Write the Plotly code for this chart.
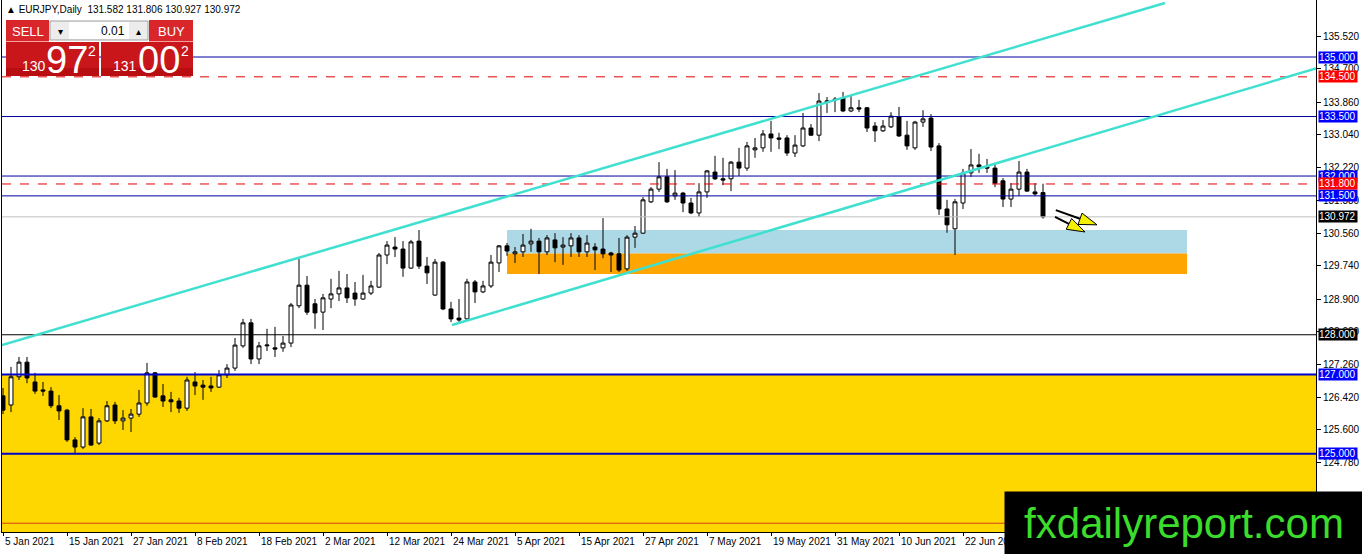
import plotly.graph_objects as go
import pandas as pd

# EURJPY daily (price units)
opens = [126.46, 126.23, 126.94, 127.31, 126.81, 126.61, 126.58, 126.21, 126.10, 125.35,
         125.17, 125.93, 125.27, 125.83, 126.23, 125.83, 125.90, 126.00, 126.28, 127.04,
         126.46, 126.36, 126.33, 126.15, 126.81, 126.73, 126.71, 126.68, 126.99, 127.16,
         127.72, 128.30, 127.39, 127.72, 127.67, 127.67, 127.79, 128.73, 129.25, 128.78,
         128.57, 128.90, 129.03, 129.18, 129.05, 128.90, 129.05, 129.20, 130.01, 130.21,
         130.16, 129.68, 130.36, 129.73, 129.00, 129.83, 128.65, 128.42, 128.40, 129.33,
         129.08, 129.23, 129.81, 130.24, 130.04, 130.09, 130.29, 130.36, 130.09, 130.39,
         130.21, 130.24, 130.44, 130.09, 130.21, 130.16, 130.06, 130.04, 129.66, 130.46,
         130.56, 131.35, 131.67, 131.98, 131.50, 131.57, 131.32, 131.07, 131.60, 132.10,
         131.93, 131.93, 132.35, 132.20, 132.66, 132.71, 133.06, 132.96, 132.96, 132.58,
         132.76, 133.21, 133.03, 133.87, 133.94, 133.97, 133.64, 133.72, 133.72, 133.26,
         133.14, 133.24, 133.49, 133.03, 132.71, 133.36, 133.46, 132.76, 131.17, 130.67,
         131.32, 132.08, 132.28, 132.23, 132.20, 131.88, 131.42, 131.67, 132.10, 131.60,
         131.582]
highs = [126.66, 127.19, 127.44, 127.44, 127.04, 126.81, 126.68, 126.48, 126.13, 125.42,
         126.15, 126.13, 125.90, 126.33, 126.31, 126.10, 126.13, 126.61, 127.29, 127.06,
         126.76, 126.56, 126.41, 126.94, 127.06, 126.86, 126.94, 127.11, 127.26, 127.92,
         128.40, 128.40, 127.82, 128.15, 128.20, 127.97, 128.80, 129.91, 129.48, 128.90,
         129.03, 129.41, 129.61, 129.53, 129.33, 129.51, 129.36, 130.06, 130.36, 130.46,
         130.36, 130.39, 130.64, 129.96, 129.91, 129.86, 128.83, 128.90, 129.41, 129.38,
         129.36, 130.01, 130.26, 130.31, 130.21, 130.54, 130.67, 130.44, 130.51, 130.56,
         130.46, 130.56, 130.51, 130.51, 130.31, 130.94, 130.09, 130.44, 130.51, 130.74,
         131.47, 131.72, 132.35, 132.18, 132.15, 131.60, 131.45, 131.82, 132.15, 132.51,
         132.46, 132.38, 132.71, 132.86, 132.96, 133.16, 133.39, 133.09, 133.03, 133.03,
         133.59, 133.31, 134.09, 133.99, 133.99, 134.12, 134.04, 133.92, 133.74, 133.36,
         133.41, 133.61, 133.74, 133.39, 133.39, 133.66, 133.56, 132.83, 131.40, 131.42,
         132.18, 132.68, 132.56, 132.43, 132.33, 131.95, 131.82, 132.38, 132.18, 131.82,
         131.806]
lows = [126.00, 126.05, 126.86, 126.78, 126.51, 126.46, 126.15, 125.85, 125.30, 124.99,
        125.12, 125.20, 125.22, 125.80, 125.75, 125.60, 125.55, 125.93, 126.21, 126.41,
        126.18, 126.05, 126.03, 126.08, 126.48, 126.36, 126.56, 126.66, 126.91, 127.09,
        127.67, 127.26, 127.26, 127.59, 127.44, 127.57, 127.69, 128.67, 128.50, 128.15,
        128.12, 128.67, 128.85, 128.80, 128.73, 128.88, 129.00, 129.18, 129.78, 129.96,
        129.46, 129.66, 129.66, 129.28, 128.98, 128.62, 128.32, 128.32, 128.37, 128.80,
        129.05, 129.18, 129.58, 129.99, 129.81, 129.96, 130.09, 129.53, 130.01, 129.83,
        129.76, 129.96, 129.96, 129.96, 129.63, 129.93, 129.58, 129.58, 129.61, 130.19,
        130.54, 131.32, 131.60, 131.32, 131.40, 131.09, 131.04, 130.97, 131.45, 131.90,
        131.77, 131.62, 132.00, 132.13, 132.46, 132.61, 132.61, 132.68, 132.51, 132.48,
        132.73, 133.01, 132.88, 133.59, 133.61, 133.61, 133.61, 133.61, 133.11, 132.86,
        133.11, 133.21, 132.99, 132.66, 132.66, 133.24, 132.63, 131.02, 130.57, 130.01,
        131.17, 131.98, 132.08, 132.08, 131.72, 131.22, 131.22, 131.50, 131.60, 131.50,
        130.927]
closes = [126.10, 126.94, 127.31, 126.91, 126.58, 126.58, 126.21, 126.08, 125.35, 125.17,
          125.93, 125.22, 125.83, 126.21, 125.83, 125.90, 126.00, 126.28, 127.04, 126.43,
          126.33, 126.31, 126.15, 126.86, 126.71, 126.68, 126.66, 126.99, 127.16, 127.74,
          128.30, 127.39, 127.72, 127.74, 127.64, 127.79, 128.75, 129.25, 128.57, 128.55,
          128.93, 129.03, 129.18, 128.93, 128.90, 129.05, 129.23, 130.01, 130.26, 130.16,
          129.68, 130.34, 129.73, 129.56, 129.83, 128.65, 128.40, 128.37, 129.33, 129.08,
          129.23, 129.83, 130.24, 130.11, 130.09, 130.26, 130.36, 130.09, 130.44, 130.19,
          130.26, 130.44, 130.09, 130.31, 130.14, 130.04, 130.01, 129.63, 130.46, 130.56,
          131.40, 131.67, 131.98, 131.35, 131.57, 131.32, 131.07, 131.60, 132.13, 131.93,
          131.90, 132.35, 132.20, 132.76, 132.71, 133.06, 132.96, 132.93, 132.58, 132.78,
          133.21, 133.03, 133.89, 133.89, 133.92, 133.64, 133.72, 133.69, 133.21, 133.14,
          133.26, 133.51, 133.01, 132.76, 133.36, 133.44, 132.73, 131.17, 130.77, 131.35,
          132.08, 132.28, 132.23, 132.20, 131.82, 131.42, 131.67, 132.10, 131.62, 131.55,
          130.972]

blue_levels = [135.000, 133.500, 132.000, 131.500, 127.000, 125.000]
red_levels = [134.500, 131.800]
black_level = 128.000
bid = 130.972
bottom_red_level = 123.25
yellow_zone = [127.000, 123.0]
blue_zone = [130.05, 130.64]
orange_zone = [129.53, 130.05]
zone_bars = [63, 148]

# channel lines (bar index, price)
upper_channel = [(-0.125, 127.742), (145.25, 136.361)]
lower_channel = [(56.125, 128.246), (164.125, 134.713)]

# two arrows (start, tip)
arrows = [((131.6, 131.14), (136.75, 130.77)),
          ((131.5, 130.97), (135.25, 130.59))]

y_ticks = [124.780, 125.600, 126.420, 127.260, 128.080, 128.900, 129.740,
           130.560, 131.380, 132.220, 133.040, 133.860, 134.700, 135.520]

bars = list(range(len(closes)))
dates = pd.bdate_range('2021-01-05', periods=len(closes))
tick_bars = bars[::8]
tick_text = [f"{d.day} {d:%b %Y}" for d in dates[::8]]

W, H = 1362, 554
ML, MR, MT, MB = 2, 46, 0, 22
PW, PH = W - ML - MR, H - MT - MB
x_range = [-0.125, -0.125 + PW / 8]
y_range = [123.029, 136.4365]
px_per_bar = PW / (x_range[1] - x_range[0])
px_per_unit = PH / (y_range[1] - y_range[0])
FONT = 'Liberation Sans, Arial, sans-serif'


def px(x):
    return (x - ML) / PW


def py(y):
    return 1 - (y - MT) / PH


fig = go.Figure()
fig.add_trace(go.Candlestick(
    x=bars, open=opens, high=highs, low=lows, close=closes,
    increasing=dict(fillcolor='white', line=dict(color='black', width=1)),
    decreasing=dict(fillcolor='black', line=dict(color='black', width=1)),
    whiskerwidth=0, hoverinfo='skip'
))

shapes = []
# zonas
shapes.append(dict(type='rect', xref='paper', yref='y', x0=0, x1=1,
                   y0=yellow_zone[0], y1=yellow_zone[1], fillcolor='#FFD700',
                   line_width=0, layer='below'))
shapes.append(dict(type='rect', xref='x', yref='y', x0=zone_bars[0], x1=zone_bars[1],
                   y0=blue_zone[0], y1=blue_zone[1], fillcolor='#ADD8E6',
                   line_width=0, layer='below'))
shapes.append(dict(type='rect', xref='x', yref='y', x0=zone_bars[0], x1=zone_bars[1],
                   y0=orange_zone[0], y1=orange_zone[1], fillcolor='#FFA500',
                   line_width=0, layer='below'))

# lineas horizontales
shapes.append(dict(type='line', xref='paper', yref='y', x0=0, x1=1, y0=bid, y1=bid,
                   line=dict(color='#C0C0C0', width=1)))
shapes.append(dict(type='line', xref='paper', yref='y', x0=0, x1=1,
                   y0=bottom_red_level, y1=bottom_red_level,
                   line=dict(color='#D2401A', width=1)))
shapes.append(dict(type='line', xref='paper', yref='y', x0=0, x1=1,
                   y0=black_level, y1=black_level, line=dict(color='black', width=1)))
for lv in red_levels:
    shapes.append(dict(type='line', xref='paper', yref='y', x0=0, x1=1, y0=lv, y1=lv,
                       line=dict(color='#E00000', width=1, dash='dash')))
for lv in blue_levels:
    w = 2 if lv < 128 else 1
    shapes.append(dict(type='line', xref='paper', yref='y', x0=0, x1=1, y0=lv, y1=lv,
                       line=dict(color='#0000CD' if w == 2 else '#0000A0', width=w)))

# canal
for (x0, y0), (x1, y1) in [upper_channel, lower_channel]:
    shapes.append(dict(type='line', xref='x', yref='y', x0=x0, y0=y0, x1=x1, y1=y1,
                       line=dict(color='#40E0D0', width=2.5)))

# flechas
for (x0, y0), (x1, y1) in arrows:
    dx = (x1 - x0) * px_per_bar
    dy = (y1 - y0) * px_per_unit
    n = (dx ** 2 + dy ** 2) ** 0.5
    ux, uy = dx / n, dy / n
    head, half = 18, 6
    bx, by = x1 - head * ux / px_per_bar, y1 - head * uy / px_per_unit
    p1 = (bx - half * uy / px_per_bar, by + half * ux / px_per_unit)
    p2 = (bx + half * uy / px_per_bar, by - half * ux / px_per_unit)
    shapes.append(dict(type='line', xref='x', yref='y', x0=x0, y0=y0, x1=bx, y1=by,
                       line=dict(color='black', width=2)))
    shapes.append(dict(type='path', xref='x', yref='y',
                       path=f"M {p1[0]},{p1[1]} L {x1},{y1} L {p2[0]},{p2[1]} Z",
                       fillcolor='#F5F000', line=dict(color='black', width=1)))

# panel de trading
red_top, red_big = '#D8262B', '#C8161B'
for x0, x1, y0, y1, c in [(6, 49, 20, 41, red_top), (149, 193, 20, 41, red_top),
                          (6, 99, 42, 76, red_big), (101, 193, 42, 76, red_big),
                          (6, 99, 68, 76, '#B80E12'), (101, 193, 68, 76, '#B80E12'),
                          (50, 148, 21, 40, '#ECECEC'), (69, 129, 22, 39, 'white')]:
    shapes.append(dict(type='rect', xref='paper', yref='paper', x0=px(x0), x1=px(x1),
                       y0=py(y1), y1=py(y0), fillcolor=c, line_width=0, layer='above'))
shapes.append(dict(type='rect', xref='paper', yref='paper', x0=px(50), x1=px(148),
                   y0=py(40), y1=py(21), line=dict(color='#A0A0A0', width=1), layer='above'))
for x0, x1 in [(6, 49), (149, 193)]:
    shapes.append(dict(type='line', xref='paper', yref='paper', x0=px(x0), x1=px(x1),
                       y0=py(41.5), y1=py(41.5), line=dict(color='#F4A0A0', width=1),
                       layer='above'))

annotations = []
# etiquetas de precio a la derecha
labels = [(lv, '#0000FF', 'white') for lv in blue_levels]
labels += [(lv, '#FF0000', 'white') for lv in red_levels]
labels += [(black_level, 'black', 'white'), (bid, 'black', 'white')]
for lv, bg, fg in labels:
    annotations.append(dict(x=1, xref='paper', y=lv, yref='y', xanchor='left',
                            xshift=2, text=f"{lv:.3f}", showarrow=False, bgcolor=bg,
                            font=dict(color=fg, size=10, family=FONT), width=38,
                            height=11, align='left', borderpad=0))

# fechas
for b, t in zip(tick_bars, tick_text):
    annotations.append(dict(x=b, xref='x', y=0, yref='paper', xanchor='left',
                            yanchor='top', yshift=-2, text=t, showarrow=False,
                            font=dict(color='black', size=10, family=FONT)))

# encabezado y panel
annotations.append(dict(x=px(4), y=py(2), xref='paper', yref='paper', xanchor='left',
                        yanchor='top', showarrow=False,
                        text=f"▲ EURJPY,Daily  {opens[-1]:.3f} {highs[-1]:.3f} "
                             f"{lows[-1]:.3f} {closes[-1]:.3f}",
                        font=dict(color='black', size=10, family=FONT)))
panel_txt = [(27.5, 31, 'SELL', 13, 'white'), (171, 31, 'BUY', 13, 'white'),
             (60, 31, '▾', 10, 'black'), (138.5, 31, '▴', 10, 'black'),
             (113, 31, '0.01', 12, 'black'),
             (34, 66, '130', 14, 'white'), (67, 60, '97', 38, 'white'),
             (92, 51, '2', 14, 'white'),
             (125, 66, '131', 14, 'white'), (159, 60, '00', 38, 'white'),
             (185, 51, '2', 14, 'white')]
for x, y, t, s, c in panel_txt:
    annotations.append(dict(x=px(x), y=py(y), xref='paper', yref='paper', text=t,
                            xanchor='center', yanchor='middle', showarrow=False,
                            font=dict(color=c, size=s, family=FONT)))

# marca de agua
annotations.append(dict(x=px(1004), y=py(491), xref='paper', yref='paper',
                        xanchor='left', yanchor='top', text='fxdailyreport.com',
                        showarrow=False, bgcolor='black', width=358, height=63,
                        borderpad=0, font=dict(color='#3BDC2C', size=42, family=FONT)))

fig.update_layout(
    width=W, height=H,
    margin=dict(l=ML, r=MR, t=MT, b=MB, autoexpand=False),
    paper_bgcolor='white', plot_bgcolor='white',
    showlegend=False,
    shapes=shapes,
    annotations=annotations,
    xaxis=dict(range=x_range, rangeslider=dict(visible=False), showgrid=False,
               zeroline=False, showline=True, mirror=True, linecolor='black',
               linewidth=1, tickvals=tick_bars, ticks='outside', ticklen=3,
               tickcolor='black', showticklabels=False),
    yaxis=dict(range=y_range, side='right', showgrid=False, zeroline=False,
               showline=True, mirror=True, linecolor='black', linewidth=1,
               tickvals=y_ticks, ticktext=[f"{v:.3f}" for v in y_ticks],
               ticks='outside', ticklen=4, tickcolor='black',
               tickfont=dict(color='black', size=10, family=FONT))
)

fig.write_html("out.html", config={'displayModeBar': False},
               post_script="document.body.style.margin='0px';")
